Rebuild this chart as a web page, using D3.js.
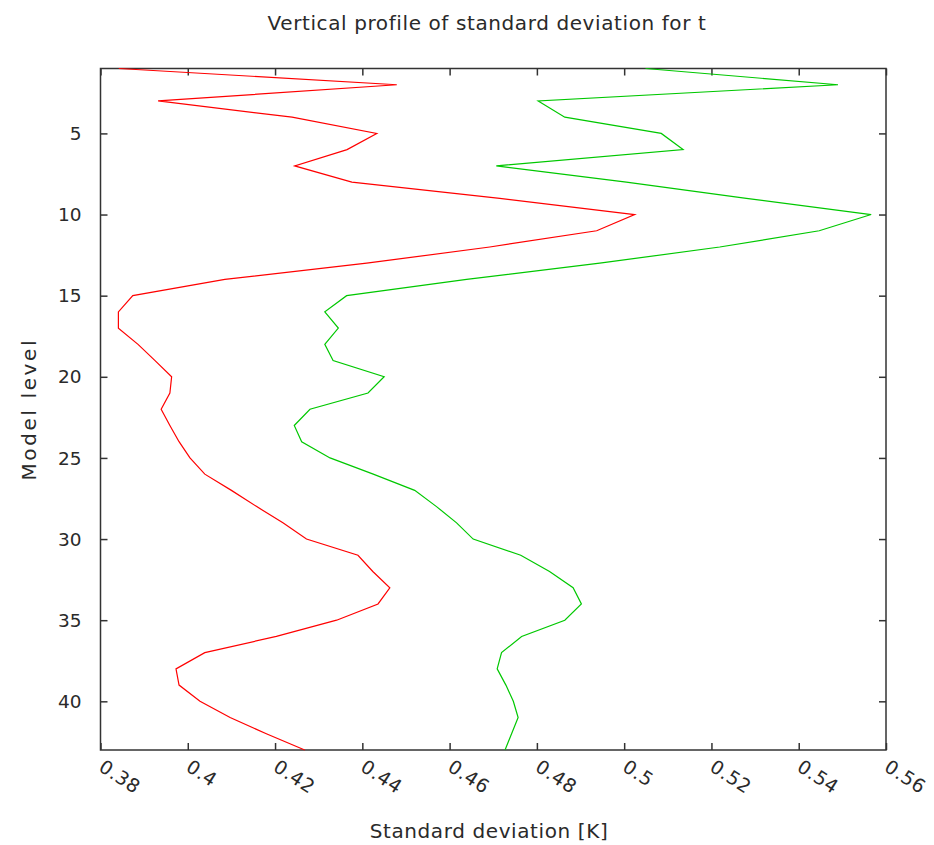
<!DOCTYPE html>
<html>
<head>
<meta charset="utf-8">
<script src="https://cdn.jsdelivr.net/npm/d3@7"></script>
<style>
body { margin: 0; background: #fff; }
text { font-family: "DejaVu Sans", sans-serif; fill: #2a2a2a; }
</style>
</head>
<body>
<div id="chart"></div>
<script>
// model levels 1..43, std dev per level for the two runs
var levels = d3.range(1, 44);
var redStd = [0.3842, 0.4479, 0.3932, 0.4239, 0.4433, 0.4365, 0.4245, 0.4376, 0.4715, 0.5024,
	0.4937, 0.4692, 0.4410, 0.4085, 0.3874, 0.3841, 0.3841, 0.3886, 0.3925, 0.3963,
	0.3959, 0.3939, 0.3959, 0.3980, 0.4005, 0.4039, 0.4100, 0.4158, 0.4218, 0.4272,
	0.4390, 0.4424, 0.4463, 0.4436, 0.4341, 0.4203, 0.4039, 0.3973, 0.3980, 0.4028,
	0.4097, 0.4180, 0.4268];
var greenStd = [0.5049, 0.5490, 0.4803, 0.4864, 0.5085, 0.5135, 0.4707, 0.5005, 0.5280, 0.5566,
	0.5447, 0.5219, 0.4944, 0.4639, 0.4364, 0.4314, 0.4345, 0.4314, 0.4333, 0.4450,
	0.4413, 0.4280, 0.4244, 0.4261, 0.4326, 0.4425, 0.4520, 0.4570, 0.4616, 0.4654,
	0.4763, 0.4829, 0.4883, 0.4902, 0.4864, 0.4765, 0.4719, 0.4709, 0.4729, 0.4746,
	0.4757, 0.4742, 0.4727];
var xTicks = [0.38, 0.40, 0.42, 0.44, 0.46, 0.48, 0.50, 0.52, 0.54, 0.56];
var yTicks = [5, 10, 15, 20, 25, 30, 35, 40];

var width = 934, height = 845;
var m = {top: 68.5, right: 48, bottom: 95, left: 100.5};

var svg = d3.select("#chart").append("svg")
	.attr("width", width)
	.attr("height", height);

var x = d3.scaleLinear().domain([0.38, 0.56]).range([m.left, width - m.right]);
var y = d3.scaleLinear().domain([1, 43]).range([m.top, height - m.bottom]);

var fmt = d => String(+d.toFixed(2));

// ticks inward on all four sides
svg.append("g")
	.attr("transform", `translate(0,${y(43)})`)
	.call(d3.axisTop(x).tickValues(xTicks).tickSize(7).tickFormat(""))
	.call(g => g.select(".domain").remove());
svg.append("g")
	.attr("transform", `translate(0,${y(1)})`)
	.call(d3.axisBottom(x).tickValues(xTicks).tickSize(7).tickFormat(""))
	.call(g => g.select(".domain").remove());
svg.append("g")
	.attr("transform", `translate(${x(0.38)},0)`)
	.call(d3.axisRight(y).tickValues(yTicks).tickSize(7).tickFormat(""))
	.call(g => g.select(".domain").remove());
svg.append("g")
	.attr("transform", `translate(${x(0.56)},0)`)
	.call(d3.axisLeft(y).tickValues(yTicks).tickSize(7).tickFormat(""))
	.call(g => g.select(".domain").remove());
svg.selectAll(".tick line").attr("stroke", "#333").attr("stroke-width", 1.5);

// frame
svg.append("rect")
	.attr("x", x(0.38)).attr("y", y(1))
	.attr("width", x(0.56) - x(0.38)).attr("height", y(43) - y(1))
	.attr("fill", "none").attr("stroke", "#333").attr("stroke-width", 1.5);

// x tick labels, slanted
svg.append("g").selectAll("text")
	.data(xTicks)
	.join("text")
	.attr("transform", d => `translate(${x(d) - 3},${y(43) + 20}) rotate(33)`)
	.style("font-size", "19px")
	.style("letter-spacing", "0.6px")
	.text(fmt);

// y tick labels
svg.append("g").selectAll("text")
	.data(yTicks)
	.join("text")
	.attr("x", x(0.38) - 19)
	.attr("y", d => y(d))
	.attr("dy", "0.36em")
	.attr("text-anchor", "end")
	.style("font-size", "18.5px")
	.text(d => d);

var line = d3.line()
	.x(d => x(d[1]))
	.y(d => y(d[0]));

svg.append("path")
	.datum(levels.map((l, i) => [l, redStd[i]]))
	.attr("d", line)
	.attr("fill", "none")
	.attr("stroke", "#ff0000")
	.attr("stroke-width", 1.2);

svg.append("path")
	.datum(levels.map((l, i) => [l, greenStd[i]]))
	.attr("d", line)
	.attr("fill", "none")
	.attr("stroke", "#00c800")
	.attr("stroke-width", 1.2);

svg.append("text")
	.attr("x", 487)
	.attr("y", 30)
	.attr("text-anchor", "middle")
	.style("font-size", "20px")
	.style("letter-spacing", "0.6px")
	.text("Vertical profile of standard deviation for t");

svg.append("text")
	.attr("x", 489)
	.attr("y", 838)
	.attr("text-anchor", "middle")
	.style("font-size", "20px")
	.style("letter-spacing", "0.6px")
	.text("Standard deviation [K]");

svg.append("text")
	.attr("transform", `translate(36,${(y(1) + y(43)) / 2}) rotate(-90)`)
	.attr("text-anchor", "middle")
	.style("font-size", "20px")
	.style("letter-spacing", "2.6px")
	.text("Model level");
</script>
</body>
</html>
